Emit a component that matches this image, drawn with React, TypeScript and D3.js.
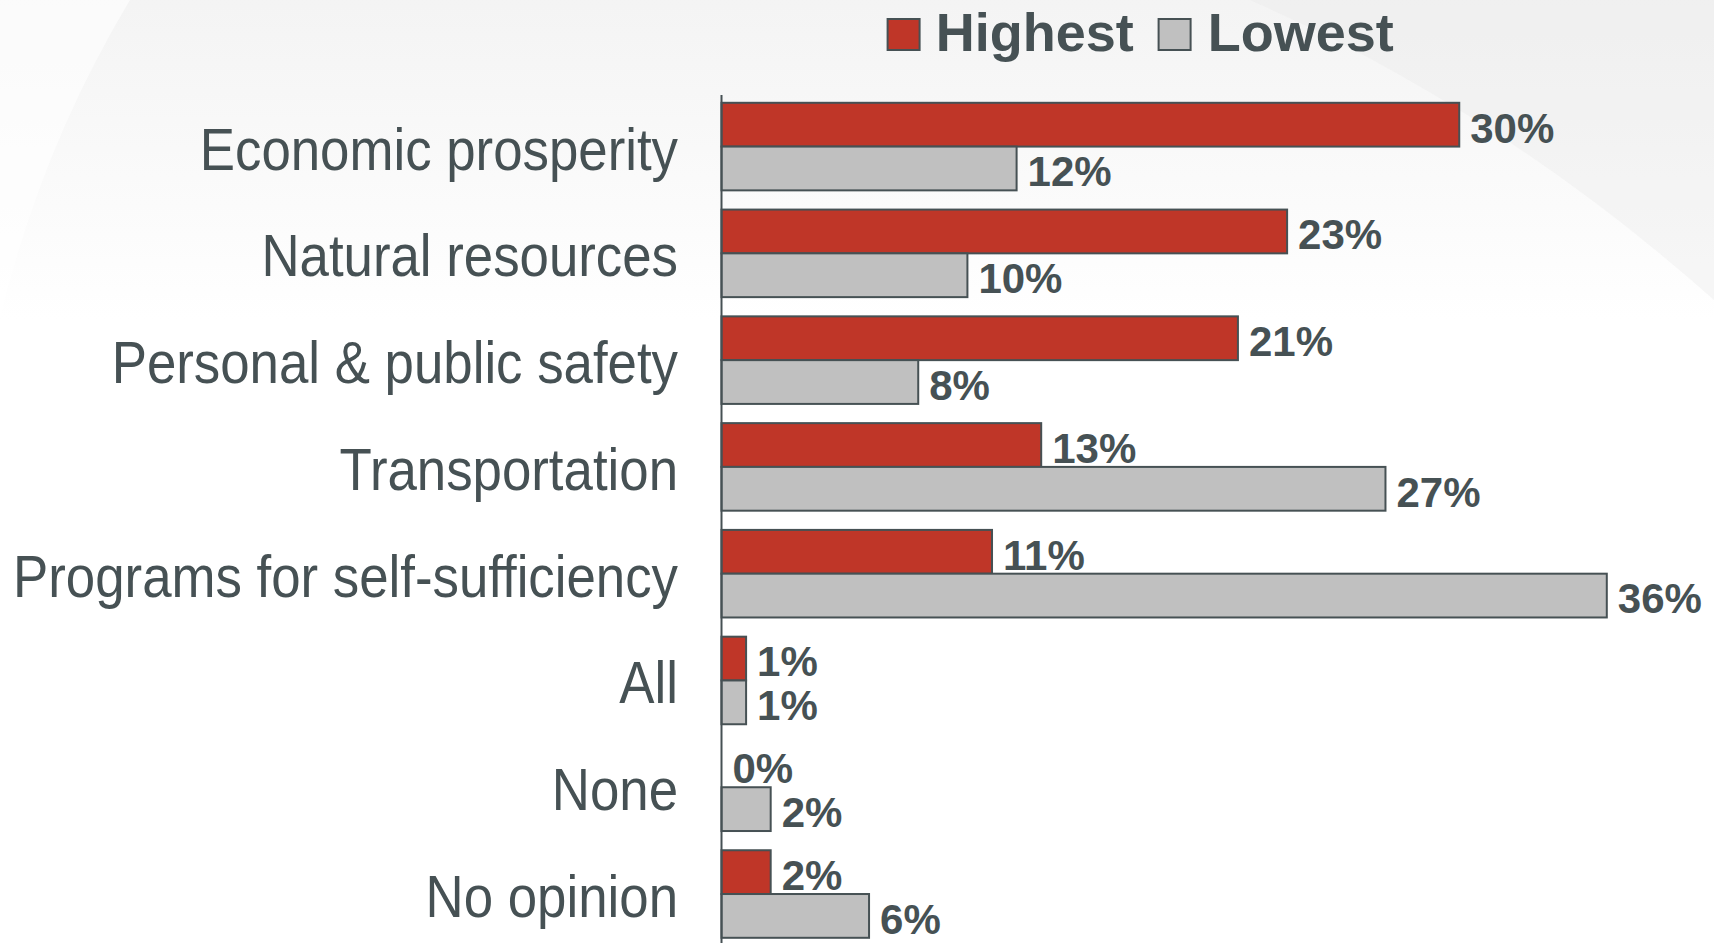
import React, { useEffect, useRef } from "react";
import * as d3 from "d3";

const categories = [
  "Economic prosperity",
  "Natural resources",
  "Personal & public safety",
  "Transportation",
  "Programs for self-sufficiency",
  "All",
  "None",
  "No opinion",
];
const highest = [30, 23, 21, 13, 11, 1, 0, 2];
const lowest = [12, 10, 8, 27, 36, 1, 2, 6];
const seriesNames = ["Highest", "Lowest"];
const seriesColors = ["#BF3628", "#C0C0C0"];

const W = 1714;
const H = 943;
const ink = "#465154";

const App = () => {
  const ref = useRef<SVGSVGElement>(null);

  useEffect(() => {
    const svg = d3.select(ref.current);
    svg.selectAll("*").remove();
    svg.attr("width", W).attr("height", H);

    // faint photo-like background
    const defs = svg.append("defs");
    const g1 = defs
      .append("linearGradient")
      .attr("id", "bgTop")
      .attr("x1", 0)
      .attr("y1", 0)
      .attr("x2", 0)
      .attr("y2", 1);
    g1.append("stop").attr("offset", "0%").attr("stop-color", "#efefef");
    g1.append("stop").attr("offset", "100%").attr("stop-color", "#ffffff");
    svg.append("rect").attr("width", W).attr("height", H).attr("fill", "#ffffff");
    svg.append("rect").attr("width", W).attr("height", 320).attr("fill", "url(#bgTop)").attr("opacity", 0.7);
    svg
      .append("path")
      .attr("d", "M0,320 L0,0 L130,0 Q40,150 0,320 Z")
      .attr("fill", "#ffffff")
      .attr("opacity", 0.6);
    svg
      .append("path")
      .attr("d", "M1250,0 L1714,0 L1714,300 Q1500,110 1250,0 Z")
      .attr("fill", "#e8e8e8")
      .attr("opacity", 0.35);

    const x = d3.scaleLinear().domain([0, 36]).range([721.5, 1606.8]);
    const y = d3
      .scaleBand()
      .domain(categories)
      .range([102.8, 937.8])
      .paddingInner(0.18)
      .paddingOuter(0);
    const ySub = d3.scaleBand().domain(seriesNames).range([0, y.bandwidth()]);

    const rows = categories.map((c, i) => ({ c, vals: [highest[i], lowest[i]] }));

    // category labels (narrow face: Liberation Sans squeezed horizontally)
    svg
      .append("g")
      .selectAll("text")
      .data(categories)
      .enter()
      .append("text")
      .attr("transform", (d) => `translate(678,${(y(d) as number) + y.bandwidth() / 2 + 23}) scale(0.88,1)`)
      .attr("text-anchor", "end")
      .attr("font-family", "'Liberation Sans', Arial, sans-serif")
      .attr("font-size", 60)
      .attr("fill", ink)
      .text((d) => d);

    // bars
    const grp = svg
      .append("g")
      .selectAll("g")
      .data(rows)
      .enter()
      .append("g")
      .attr("transform", (d) => `translate(0,${y(d.c)})`);

    grp
      .selectAll("rect")
      .data((d) => d.vals.map((v, k) => ({ v, k })))
      .enter()
      .append("rect")
      .attr("x", x(0))
      .attr("y", (d) => ySub(seriesNames[d.k]) as number)
      .attr("width", (d) => x(d.v) - x(0))
      .attr("height", ySub.bandwidth())
      .attr("fill", (d) => seriesColors[d.k])
      .attr("stroke", (d) => (d.v > 0 ? ink : "none"))
      .attr("stroke-width", 2);

    grp
      .selectAll("text")
      .data((d) => d.vals.map((v, k) => ({ v, k })))
      .enter()
      .append("text")
      .attr("x", (d) => x(d.v) + 11)
      .attr("y", (d) => (ySub(seriesNames[d.k]) as number) + ySub.bandwidth() - 4)
      .attr("font-family", "'Liberation Sans', Arial, sans-serif")
      .attr("font-weight", "bold")
      .attr("font-size", 42)
      .attr("fill", ink)
      .text((d) => `${d.v}%`);

    // axis line
    svg
      .append("line")
      .attr("x1", x(0))
      .attr("x2", x(0))
      .attr("y1", 95)
      .attr("y2", H)
      .attr("stroke", ink)
      .attr("stroke-width", 2);

    // legend
    const legendItems = [
      { name: seriesNames[0], color: seriesColors[0], sx: 887.6, tx: 935.7 },
      { name: seriesNames[1], color: seriesColors[1], sx: 1158.6, tx: 1207.8 },
    ];
    const lg = svg.append("g");
    lg.selectAll("rect")
      .data(legendItems)
      .enter()
      .append("rect")
      .attr("x", (d) => d.sx)
      .attr("y", 19)
      .attr("width", 32)
      .attr("height", 31)
      .attr("fill", (d) => d.color)
      .attr("stroke", ink)
      .attr("stroke-width", 2);
    lg.selectAll("text")
      .data(legendItems)
      .enter()
      .append("text")
      .attr("x", (d) => d.tx)
      .attr("y", 51)
      .attr("font-family", "'Liberation Sans', Arial, sans-serif")
      .attr("font-weight", "bold")
      .attr("font-size", 54)
      .attr("fill", ink)
      .text((d) => d.name);
  }, []);

  return <svg ref={ref} style={{ position: "absolute", left: 0, top: 0, display: "block" }}></svg>;
};

export default App;
